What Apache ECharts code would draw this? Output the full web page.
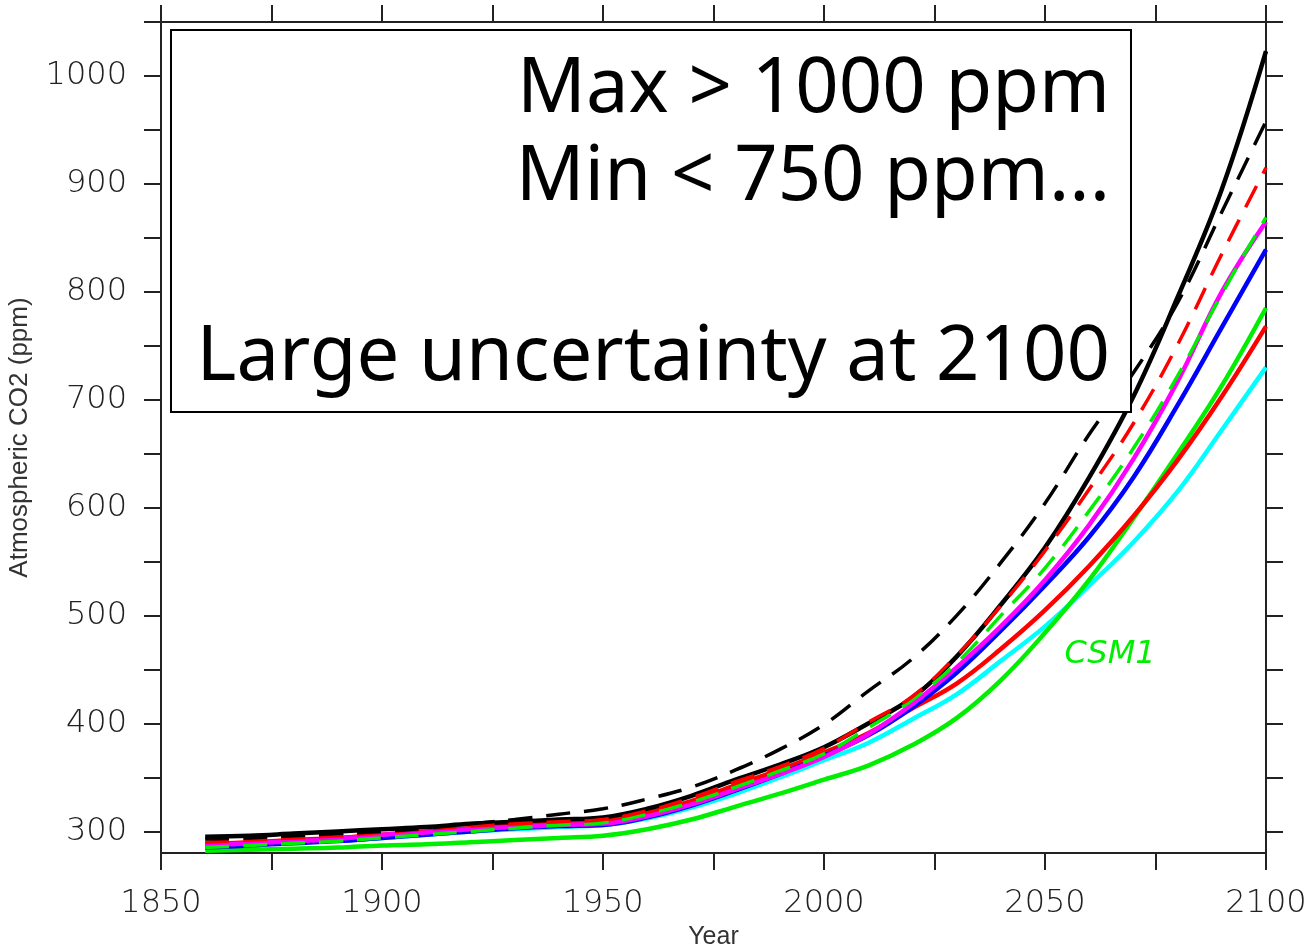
<!DOCTYPE html>
<html>
<head>
<meta charset="utf-8">
<script src="https://cdn.jsdelivr.net/npm/echarts@6/dist/echarts.min.js"></script>
<style>
html,body{margin:0;padding:0;background:#fff;}
#co2_chart{width:1310px;height:952px;}
</style>
</head>
<body>
<div id="co2_chart"></div>
<script>
// years sampled every decade
var years=[1860,1870,1880,1890,1900,1910,1920,1930,1940,1950,1960,1970,1980,1990,2000,2010,2020,2030,2040,2050,2060,2070,2080,2090,2100];

var blackSolid=[295,296,298,300,302,304,307,309,311,313,321,333,348,362,378,400,424,462,510,563,628,703,795,895,1023];
var blackDash=[293,294,296,298,300,303,307,311,316,321,330,341,357,376,399,430,460,500,549,604,668,725,790,874,958];
var redDash=[290,292,294,296,299,302,305,307,309,311,319,331,346,360,377,401,425,463,509,560,617,678,751,835,915];
var redSolid=[288,290,292,294,297,300,303,306,308,310,317,328,343,357,373,391,414,437,469,505,546,592,644,703,768];
var greenDash=[285,287,289,291,294,297,300,303,306,308,316,327,341,356,372,396,422,456,500,544,597,655,722,798,869];
var magenta=[287,289,291,293,297,299,302,304,306,307,314,325,339,353,369,390,418,452,490,533,584,645,717,800,865];
var blue=[285,287,289,291,294,297,300,303,305,306,313,324,338,353,370,389,415,447,486,528,573,628,695,767,839];
var cyan=[288,289,291,292,294,297,300,302,304,306,312,322,335,350,366,382,404,427,458,490,528,568,615,672,730];
var csm1=[282,283,284,285,287,288,290,292,294,296,302,311,323,335,348,361,380,405,440,484,533,590,650,713,785];

var yTicks=[300,350,400,450,500,550,600,650,700,750,800,850,900,950,1000,1050];
var yLabels=[300,400,500,600,700,800,900,1000];

function pairs(vals){
    return years.map(function(y,i){return [y,vals[i]];});
}
function line(vals,color,dashed){
    return {
        type:'line',
        data:pairs(vals),
        showSymbol:false,
        smooth:0.4,
        lineStyle:{color:color,width:dashed?3.5:4.5,type:dashed?[24,14]:'solid'},
        z:dashed?3:2
    };
}

var axisColor='#222';
var tickStyle={color:axisColor,width:2};
var labelFont={fontSize:32,fontFamily:'DejaVu Sans',fontWeight:200,color:'#222'};

var co2_chart=echarts.init(document.getElementById('co2_chart'));
var co2_option={
    animation:false,
    backgroundColor:'#fff',
    grid:{left:161,right:44,top:22,bottom:99,outerBoundsMode:'none',containLabel:false},
    xAxis:[
        {
            type:'value',min:1850,max:2100,interval:50,
            axisLine:{show:true,onZero:false,lineStyle:tickStyle},
            axisTick:{show:true,length:17,lineStyle:tickStyle},
            minorTick:{show:true,splitNumber:2,length:17,lineStyle:tickStyle},
            axisLabel:Object.assign({margin:35,formatter:function(v){return String(v);}},labelFont),
            splitLine:{show:false},
            name:'Year',nameLocation:'middle',nameGap:72,
            nameTextStyle:{fontSize:25,fontFamily:'Liberation Sans',color:'#333'}
        },
        {
            type:'value',position:'top',min:1850,max:2100,interval:50,
            axisLine:{show:true,onZero:false,lineStyle:tickStyle},
            axisTick:{show:true,length:17,lineStyle:tickStyle},
            minorTick:{show:true,splitNumber:2,length:17,lineStyle:tickStyle},
            axisLabel:{show:false},
            splitLine:{show:false}
        }
    ],
    yAxis:[
        {
            type:'value',min:280,max:1050,
            axisLine:{show:true,onZero:false,lineStyle:tickStyle},
            axisTick:{show:true,length:17,customValues:yTicks,lineStyle:tickStyle},
            axisLabel:Object.assign({margin:34,customValues:yLabels,formatter:function(v){return String(v);}},labelFont),
            splitLine:{show:false},
            name:'Atmospheric CO2 (ppm)',nameLocation:'middle',nameGap:128,
            nameTextStyle:{fontSize:26,fontFamily:'Liberation Sans',color:'#333'}
        },
        {
            type:'value',position:'right',min:280,max:1050,
            axisLine:{show:true,onZero:false,lineStyle:tickStyle},
            axisTick:{show:true,length:17,customValues:yTicks,lineStyle:tickStyle},
            axisLabel:{show:false},
            splitLine:{show:false}
        }
    ],
    series:[
        line(cyan,'#00ffff',false),
        line(csm1,'#00ee00',false),
        line(redSolid,'#ff0000',false),
        line(blue,'#0000ff',false),
        line(magenta,'#ff00ff',false),
        line(greenDash,'#00ee00',true),
        line(redDash,'#ff0000',true),
        line(blackDash,'#000000',true),
        line(blackSolid,'#000000',false)
    ],
    graphic:[
        {type:'rect',z:100,shape:{x:171,y:30,width:960,height:382},
         style:{fill:'#fff',stroke:'#000',lineWidth:2}},
        {type:'text',z:101,x:1110,y:90,
         style:{text:'Max > 1000 ppm',font:'76px "Noto Sans"',fill:'#000',textAlign:'right',textVerticalAlign:'middle'}},
        {type:'text',z:101,x:1110,y:178,
         style:{text:'Min < 750 ppm...',font:'76px "Noto Sans"',fill:'#000',textAlign:'right',textVerticalAlign:'middle'}},
        {type:'text',z:101,x:1110,y:358,
         style:{text:'Large uncertainty at 2100',font:'76px "Noto Sans"',fill:'#000',textAlign:'right',textVerticalAlign:'middle'}},
        {type:'text',z:101,x:1110,y:655,
         style:{text:'CSM1',font:'italic 32px "DejaVu Sans"',fill:'#00ee00',textAlign:'center',textVerticalAlign:'middle'}}
    ]
};
co2_chart.setOption(co2_option);
</script>
</body>
</html>
